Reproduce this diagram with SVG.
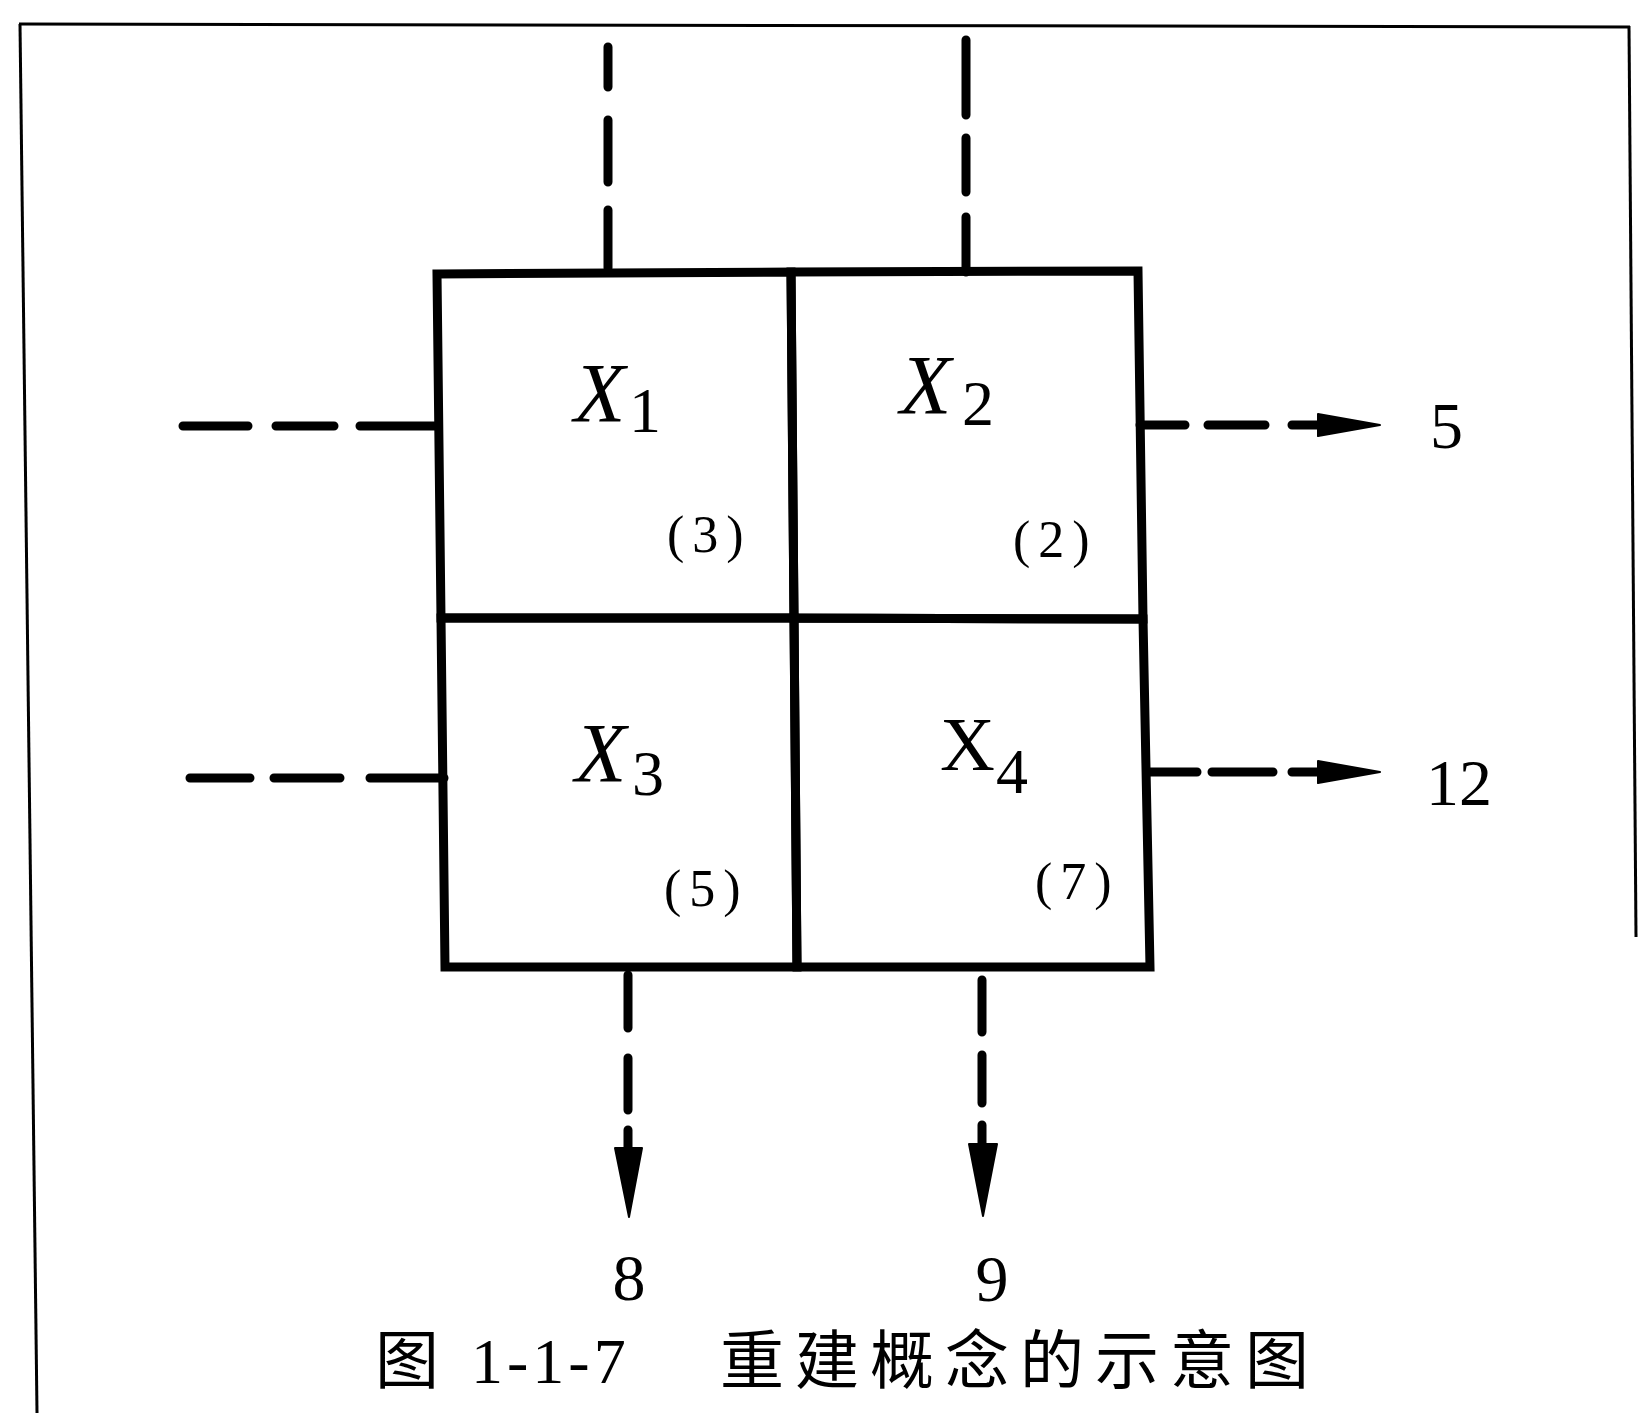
<svg xmlns="http://www.w3.org/2000/svg" width="1639" height="1413" viewBox="0 0 1639 1413">
<defs>
<style>
.frame{stroke:#000;stroke-width:3;fill:none}
.cell{fill:none;stroke:#000;stroke-width:9;stroke-linejoin:miter}
.dash{fill:none;stroke:#000;stroke-width:9;stroke-linecap:round}
.head{fill:#000;stroke:#000;stroke-width:2;stroke-linejoin:round}
.xl{font-family:"Liberation Serif","Times New Roman",serif;font-style:italic;font-size:84px;fill:#000}
.xu{font-family:"Liberation Serif","Times New Roman",serif;font-size:76px;fill:#000}
.sub{font-family:"Liberation Serif","Times New Roman",serif;font-size:64px;fill:#000}
.num{font-family:"Liberation Serif","Times New Roman",serif;font-size:52px;letter-spacing:8px;fill:#000}
.out{font-family:"Liberation Serif","Times New Roman",serif;font-size:66px;fill:#000}
.cap{font-family:"Liberation Serif","Noto Sans CJK SC",serif;font-size:64px;fill:#000}
</style>
</defs>
<rect width="1639" height="1413" fill="#fff"/>
<g id="frame">
<line class="frame" x1="19" y1="24" x2="1630" y2="27"/>
<line class="frame" x1="20" y1="24" x2="37" y2="1413"/>
<line class="frame" x1="1629" y1="26" x2="1636" y2="937" stroke-width="4"/>
</g>
<g id="cell-x1">
<polygon class="cell" points="437,274 791,272 794,618 441,618"/>
<text class="xl" x="574" y="422">X</text><text class="sub" x="629" y="432">1</text>
<text class="num" x="667" y="552">(3)</text>
</g>
<g id="cell-x2">
<polygon class="cell" points="791,272 1138,271 1143,619 794,618"/>
<text class="xl" x="900" y="414">X</text><text class="sub" x="962" y="425">2</text>
<text class="num" x="1013" y="557">(2)</text>
</g>
<g id="cell-x3">
<polygon class="cell" points="441,618 794,618 797,967 445,967"/>
<text class="xl" x="575" y="782">X</text><text class="sub" x="632" y="795">3</text>
<text class="num" x="664" y="906">(5)</text>
</g>
<g id="cell-x4">
<polygon class="cell" points="794,618 1143,619 1150,967 797,967"/>
<text class="xu" x="940" y="770">X</text><text class="sub" x="996" y="793">4</text>
<text class="num" x="1035" y="899">(7)</text>
</g>
<g id="connectors">
<path class="dash" d="M608,47 V87 M608,120 V182 M608,210 V268"/>
<path class="dash" d="M966,40 V115 M966,138 V192 M966,217 V272"/>
<path class="dash" d="M183,426 H248 M276,426 H334 M360,426 H436"/>
<path class="dash" d="M190,778 H250 M274,778 H340 M370,778 H444"/>
<path class="dash" d="M1140,425 H1185 M1208,425 H1265 M1292,425 H1322"/>
<polygon class="head" points="1318,414 1380,425 1318,436"/>
<path class="dash" d="M1148,772 H1197 M1212,772 H1273 M1292,772 H1322"/>
<polygon class="head" points="1318,761 1380,772 1318,783"/>
<path class="dash" d="M628,975 V1028 M628,1058 V1110 M628,1130 V1152"/>
<polygon class="head" points="615,1148 642,1148 629,1217"/>
<path class="dash" d="M982,980 V1032 M982,1055 V1103 M982,1125 V1148"/>
<polygon class="head" points="969,1144 997,1144 983,1216"/>
</g>
<g id="labels">
<text class="out" x="1430" y="448">5</text>
<text class="out" x="1426" y="805">12</text>
<text class="out" x="629" y="1300" text-anchor="middle" font-size="62">8</text>
<text class="out" x="992" y="1301" text-anchor="middle" font-size="62">9</text>
</g>
<text class="cap" y="1383"><tspan x="375">图</tspan><tspan x="471" letter-spacing="4">1-1-7</tspan><tspan x="720" letter-spacing="11">重建概念的示意图</tspan></text>
</svg>
